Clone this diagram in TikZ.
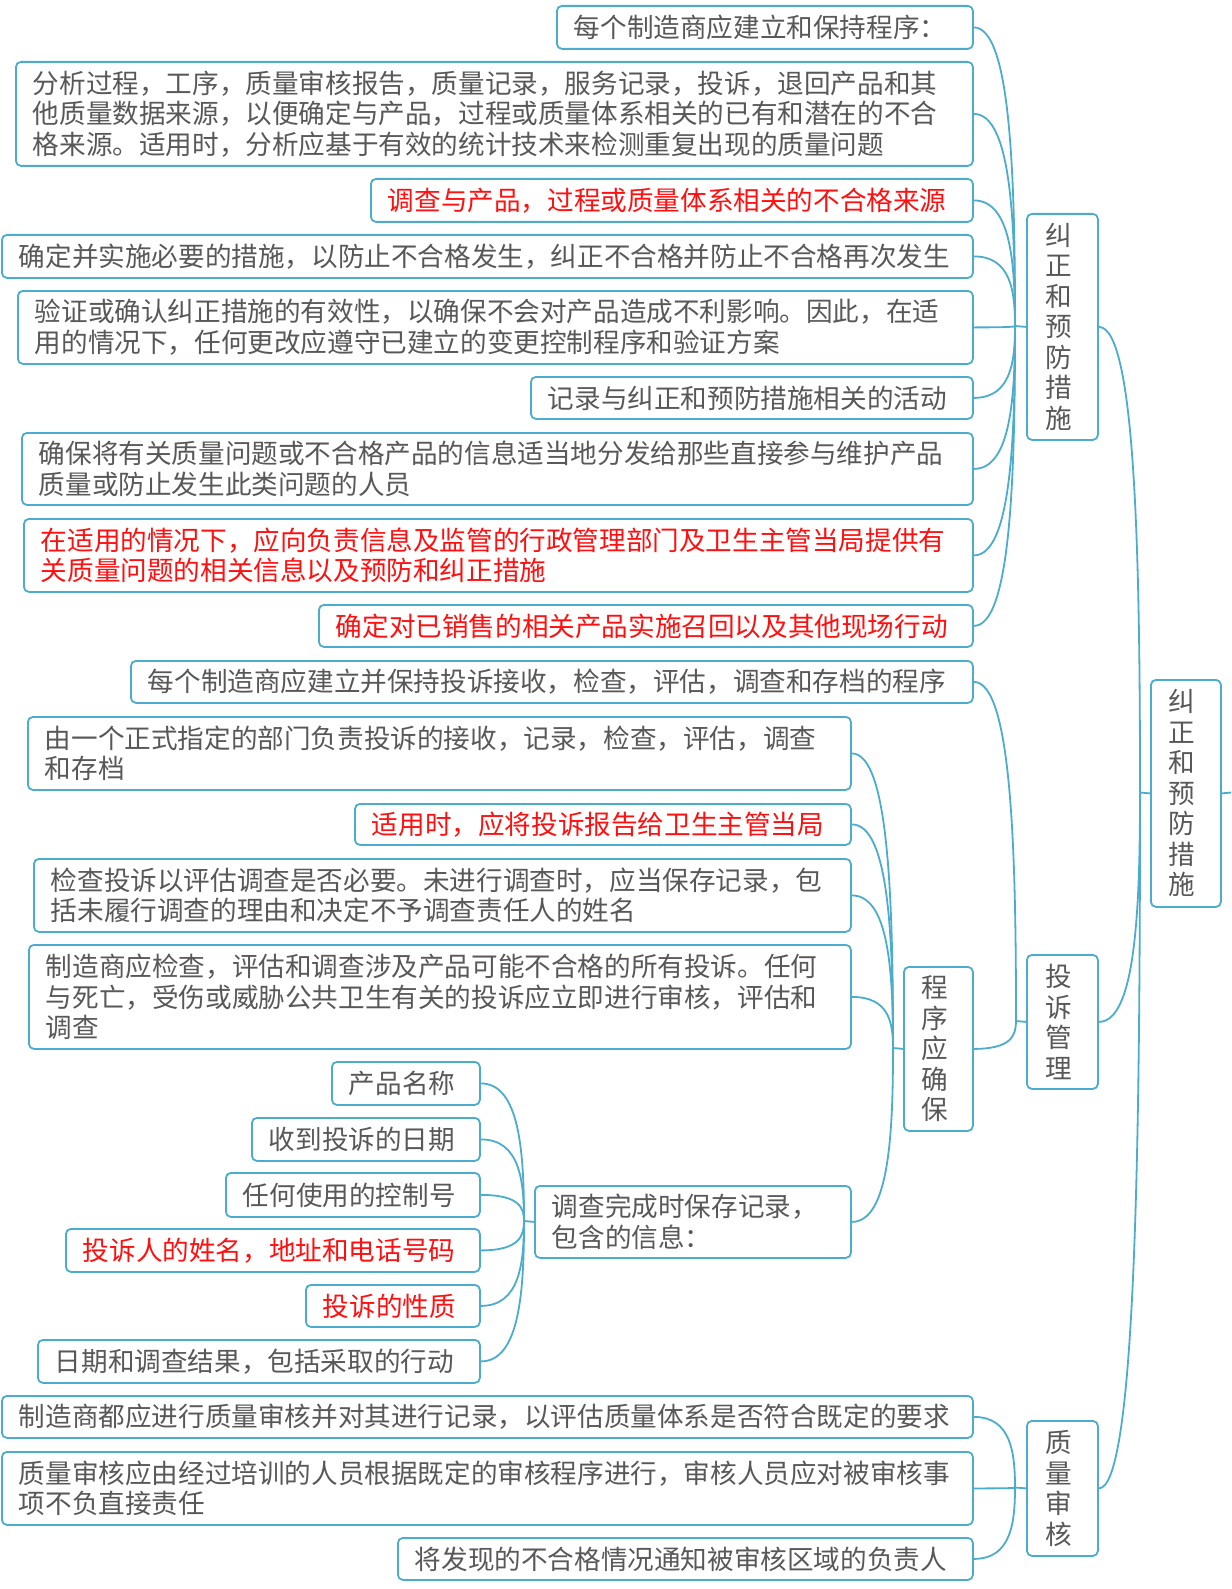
\documentclass[tikz,border=0pt]{standalone}
\usepackage{fontspec}
\newfontfamily\cjk{Noto Sans CJK SC}
\usetikzlibrary{calc}
\definecolor{lineblue}{RGB}{75,172,206}
\definecolor{textgray}{RGB}{88,88,88}
\definecolor{txtred}{RGB}{255,16,16}
\tikzset{
  box/.style={draw=lineblue, line width=1.8pt, rounded corners=5pt, fill=white,
    inner xsep=17pt, inner ysep=0pt, align=left,
    font=\cjk\fontsize{26.6pt}{30.5pt}\selectfont},
  vbox/.style={draw=lineblue, line width=1.8pt, rounded corners=5pt, fill=white,
    inner sep=0pt, align=center, text=textgray,
    font=\cjk\fontsize{26.6pt}{30.5pt}\selectfont},
  link/.style={draw=lineblue, line width=1.8pt}
}
\newcommand\vl{\hspace*{-8pt}}
\newcommand\bx[7]{%
  \pgfmathsetmacro\bw{#4-#2}\pgfmathsetmacro\bh{#5-#3}\pgfmathsetmacro\btw{#4-#2-34}%
  \node[box, text=#6, anchor=north west, minimum width=\bw pt, minimum height=\bh pt,
        text width=\btw pt] (#1) at (#2,#3) {#7};}
\newcommand\vbx[6]{%
  \pgfmathsetmacro\bw{#4-#2}\pgfmathsetmacro\bh{#5-#3}%
  \node[vbox, anchor=north west, minimum width=\bw pt, minimum height=\bh pt] (#1) at (#2,#3) {#6};}
\newcommand\conn[2]{%
  \draw[link] (#1.east) .. controls ($(#1.east)!0.9!(#1.east-|#2)$) and ($(#2)!0.5!(#1.east-|#2)$) .. (#2);}
\begin{document}
\begin{tikzpicture}[x=1pt,y=-1pt]
\useasboundingbox (0,0) rectangle (1231,1589);
% junction points
\coordinate (JA) at (1015,326);
\coordinate (JR) at (1140,792.5);
\coordinate (JB) at (1016,1021);
\coordinate (JP) at (893,1048);
\coordinate (JQ) at (524,1221);
\coordinate (JC) at (1015,1487.5);
\coordinate (Rout) at (1231,792.5);
% vertical boxes
\vbx{R}{1150}{679}{1220}{906}{\vl 纠\\\vl 正\\\vl 和\\\vl 预\\\vl 防\\\vl 措\\\vl 施}
\vbx{A}{1026}{213}{1097}{439}{\vl 纠\\\vl 正\\\vl 和\\\vl 预\\\vl 防\\\vl 措\\\vl 施}
\vbx{B}{1026}{954}{1097}{1088}{\vl 投\\\vl 诉\\\vl 管\\\vl 理}
\vbx{C}{1026}{1420}{1097}{1555}{\vl 质\\\vl 量\\\vl 审\\\vl 核}
\vbx{P}{903}{966}{972}{1130}{\vl 程\\\vl 序\\\vl 应\\\vl 确\\\vl 保}
% group A children
\bx{a1}{556}{5}{972}{48}{textgray}{每个制造商应建立和保持程序：}
\bx{a2}{15}{61}{972}{165}{textgray}{分析过程，工序，质量审核报告，质量记录，服务记录，投诉，退回产品和其\\他质量数据来源，以便确定与产品，过程或质量体系相关的已有和潜在的不合\\格来源。适用时，分析应基于有效的统计技术来检测重复出现的质量问题}
\bx{a3}{370}{178}{972}{221}{txtred}{调查与产品，过程或质量体系相关的不合格来源}
\bx{a4}{1}{234}{972}{277}{textgray}{确定并实施必要的措施，以防止不合格发生，纠正不合格并防止不合格再次发生}
\bx{a5}{17}{290}{972}{363}{textgray}{验证或确认纠正措施的有效性，以确保不会对产品造成不利影响。因此，在适\\用的情况下，任何更改应遵守已建立的变更控制程序和验证方案}
\bx{a6}{530}{376}{972}{418}{textgray}{记录与纠正和预防措施相关的活动}
\bx{a7}{21}{432}{972}{504}{textgray}{确保将有关质量问题或不合格产品的信息适当地分发给那些直接参与维护产品\\质量或防止发生此类问题的人员}
\bx{a8}{23}{518}{972}{591}{txtred}{在适用的情况下，应向负责信息及监管的行政管理部门及卫生主管当局提供有\\关质量问题的相关信息以及预防和纠正措施}
\bx{a9}{318}{604}{972}{646}{txtred}{确定对已销售的相关产品实施召回以及其他现场行动}
% group B children
\bx{b1}{130}{660}{972}{702}{textgray}{每个制造商应建立并保持投诉接收，检查，评估，调查和存档的程序}
\bx{p1}{27}{716}{850}{789}{textgray}{由一个正式指定的部门负责投诉的接收，记录，检查，评估，调查\\和存档}
\bx{p2}{354}{803}{850}{844}{txtred}{适用时，应将投诉报告给卫生主管当局}
\bx{p3}{33}{858}{850}{931}{textgray}{检查投诉以评估调查是否必要。未进行调查时，应当保存记录，包\\括未履行调查的理由和决定不予调查责任人的姓名}
\bx{p4}{28}{944}{850}{1048}{textgray}{制造商应检查，评估和调查涉及产品可能不合格的所有投诉。任何\\与死亡，受伤或威胁公共卫生有关的投诉应立即进行审核，评估和\\调查}
\bx{p5}{534}{1185}{850}{1257}{textgray}{调查完成时保存记录，\\包含的信息：}
\bx{q1}{331}{1061}{479}{1104}{textgray}{产品名称}
\bx{q2}{251}{1117}{479}{1160}{textgray}{收到投诉的日期}
\bx{q3}{225}{1172}{479}{1216}{textgray}{任何使用的控制号}
\bx{q4}{65}{1228}{479}{1271}{txtred}{投诉人的姓名，地址和电话号码}
\bx{q5}{305}{1284}{479}{1326}{txtred}{投诉的性质}
\bx{q6}{37}{1339}{479}{1382}{textgray}{日期和调查结果，包括采取的行动}
% group C children
\bx{c1}{1}{1395}{972}{1437}{textgray}{制造商都应进行质量审核并对其进行记录，以评估质量体系是否符合既定的要求}
\bx{c2}{1}{1451}{972}{1524}{textgray}{质量审核应由经过培训的人员根据既定的审核程序进行，审核人员应对被审核事\\项不负直接责任}
\bx{c3}{397}{1537}{972}{1579}{textgray}{将发现的不合格情况通知被审核区域的负责人}
% connectors
\draw[link] (R.east) -- (Rout);
\draw[link] (R.west) -- (JR);
\conn{A}{JR}\conn{B}{JR}\conn{C}{JR}
\draw[link] (A.west) -- (JA);
\conn{a1}{JA}\conn{a2}{JA}\conn{a3}{JA}\conn{a4}{JA}\conn{a5}{JA}
\conn{a6}{JA}\conn{a7}{JA}\conn{a8}{JA}\conn{a9}{JA}
\draw[link] (B.west) -- (JB);
\conn{b1}{JB}\conn{P}{JB}
\draw[link] (P.west) -- (JP);
\conn{p1}{JP}\conn{p2}{JP}\conn{p3}{JP}\conn{p4}{JP}\conn{p5}{JP}
\draw[link] (p5.west) -- (JQ);
\conn{q1}{JQ}\conn{q2}{JQ}\conn{q3}{JQ}\conn{q4}{JQ}\conn{q5}{JQ}\conn{q6}{JQ}
\draw[link] (C.west) -- (JC);
\conn{c1}{JC}\conn{c2}{JC}\conn{c3}{JC}
\end{tikzpicture}
\end{document}
